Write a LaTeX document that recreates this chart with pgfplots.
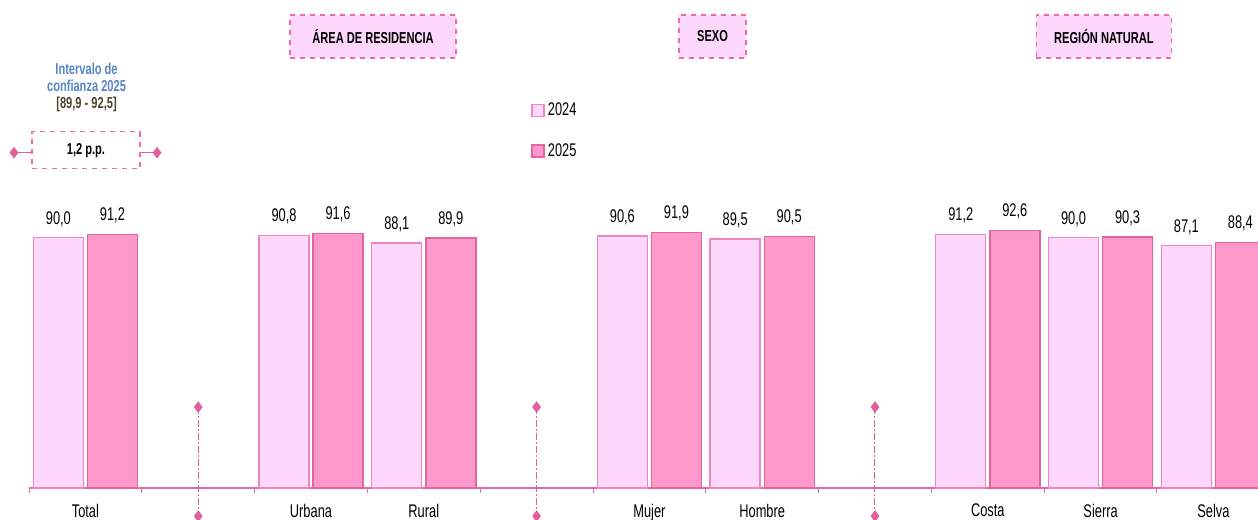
\documentclass[border=0pt]{standalone}
\usepackage{fontspec}
\setmainfont{Liberation Sans}[FakeStretch=0.7]
\usepackage{pgfplots}
\pgfplotsset{compat=1.18}

\definecolor{fillA}{HTML}{FDD7FC}
\definecolor{lineA}{HTML}{EF86C0}
\definecolor{fillB}{HTML}{FF99CC}
\definecolor{lineB}{HTML}{E4649F}
\definecolor{pinkax}{HTML}{E46AA4}
\definecolor{sepcol}{HTML}{E0609A}
\definecolor{hdrline}{HTML}{F06BAA}
\definecolor{blueint}{HTML}{5585C5}
\definecolor{olivetxt}{HTML}{4A452A}

\begin{document}
\begin{tikzpicture}
\useasboundingbox (0pt,0pt) rectangle (754.8pt,312pt);
\begin{axis}[
    at={(17.4pt,19.2pt)}, anchor=south west,
    scale only axis, width=737.7pt, height=292.8pt,
    xmin=-0.5, xmax=10.4, ymin=0, ymax=175.5,
    clip=false,
    axis y line=none,
    axis x line*=bottom,
    x axis line style={draw=pinkax, line width=0.8pt},
    xtick={0,...,10},
    xticklabels={Total,,Urbana,Rural,,Mujer,Hombre,,Costa,Sierra,Selva},
    minor xtick={-0.5,0.5,...,9.5},
    major tick length=0pt, minor tick length=3pt,
    tick align=outside,
    minor x tick style={draw=pinkax, line width=0.6pt},
    xticklabel style={font=\fontsize{11}{13}\selectfont, yshift=-6pt},
    /pgf/number format/.cd, fixed, fixed zerofill, precision=1, use comma, assume math mode=true,
    /pgfplots/.cd,
    legend style={at={(axis cs:3.95,139.8)}, anchor=north west, draw=none, fill=none,
        font=\fontsize{11}{13}\selectfont, row sep=11pt, inner sep=0pt},
    legend cell align=left,
    legend image code/.code={\draw[#1] (0pt,-3.6pt) rectangle (7.2pt,3.6pt);},
]
\addplot[ybar, bar width=0.443, bar shift=-0.24, fill=fillA, draw=lineA, line width=0.8pt,
  nodes near coords,
  every node near coord/.append style={font=\fontsize{11}{13}\selectfont, text=black, yshift=3pt, xshift=-16.2pt}]
  coordinates {(0,90.0)(2,90.8)(3,88.1)(5,90.6)(6,89.5)(8,91.2)(9,90.0)(10,87.1)};
\addlegendentry{2024}
\addplot[ybar, bar width=0.443, bar shift=0.24, fill=fillB, draw=lineB, line width=0.8pt,
  nodes near coords,
  every node near coord/.append style={font=\fontsize{11}{13}\selectfont, text=black, yshift=3pt, xshift=16.2pt}]
  coordinates {(0,91.2)(2,91.6)(3,89.9)(5,91.9)(6,90.5)(8,92.6)(9,90.3)(10,88.4)};
\addlegendentry{2025}

% separators between groups
\addplot[forget plot, sharp plot, sepcol, line width=0.6pt,
  dash pattern=on 4pt off 1.5pt on 0.8pt off 1.5pt,
  mark=diamond*, mark size=3pt, mark options={solid, fill=sepcol}]
  coordinates {(1,29.1)(1,-10.1)};
\addplot[forget plot, sharp plot, sepcol, line width=0.6pt,
  dash pattern=on 4pt off 1.5pt on 0.8pt off 1.5pt,
  mark=diamond*, mark size=3pt, mark options={solid, fill=sepcol}]
  coordinates {(4,29.1)(4,-10.1)};
\addplot[forget plot, sharp plot, sepcol, line width=0.6pt,
  dash pattern=on 4pt off 1.5pt on 0.8pt off 1.5pt,
  mark=diamond*, mark size=3pt, mark options={solid, fill=sepcol}]
  coordinates {(7,29.1)(7,-10.1)};

% confidence interval marker
\addplot[forget plot, sharp plot, sepcol, line width=0.6pt,
  mark=diamond*, mark size=3pt, mark indices={1}, mark options={fill=sepcol}]
  coordinates {(-0.633,120.6)(-0.48,120.6)};
\addplot[forget plot, sharp plot, sepcol, line width=0.6pt,
  mark=diamond*, mark size=3pt, mark indices={2}, mark options={fill=sepcol}]
  coordinates {(0.48,120.6)(0.635,120.6)};
\node[draw=hdrline, dashed, line width=0.7pt, fill=white, minimum width=64.8pt, minimum height=22.2pt,
  font=\bfseries\fontsize{9.5}{11}\selectfont] at (axis cs:0.005,121.5) {1,2 p.p.};
\node[align=center, font=\bfseries\fontsize{9.5}{10.2}\selectfont] at (axis cs:0.01,144.2)
  {\textcolor{blueint}{Intervalo de}\\\textcolor{blueint}{confianza 2025}\\\textcolor{olivetxt}{[89,9 - 92,5]}};

% group headers
\node[draw=hdrline, dashed, line width=0.8pt, fill=fillA, minimum width=99.6pt, minimum height=25.8pt,
  font=\bfseries\fontsize{9.5}{11}\selectfont] at (axis cs:2.55,162.4) {ÁREA DE RESIDENCIA};
\node[draw=hdrline, dashed, line width=0.8pt, fill=fillA, minimum width=40.2pt, minimum height=25.8pt,
  font=\bfseries\fontsize{9.5}{11}\selectfont] at (axis cs:5.56,162.4) {SEXO};
\node[draw=hdrline, dashed, line width=0.8pt, fill=fillA, minimum width=81pt, minimum height=25.8pt,
  font=\bfseries\fontsize{9.5}{11}\selectfont] at (axis cs:9.03,162.4) {REGIÓN NATURAL};
\end{axis}
\end{tikzpicture}
\end{document}
